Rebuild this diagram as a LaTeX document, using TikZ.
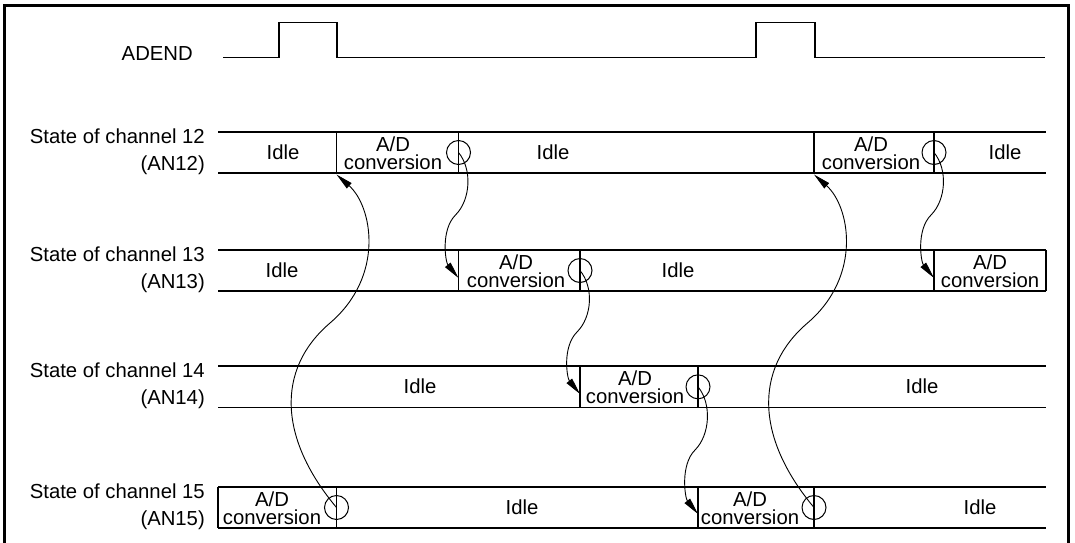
\documentclass[tikz,border=0pt]{standalone}
\usepackage{fontspec}
\setmainfont{Liberation Sans}
\usetikzlibrary{arrows.meta}
\begin{document}
\begin{tikzpicture}[x=1pt,y=-1pt,
  txt/.style={font=\fontsize{20.3}{24}\selectfont, inner sep=0pt},
  lbl/.style={txt, align=right, font=\fontsize{20.3}{27.4}\selectfont, anchor=east},
  adtxt/.style={txt, align=center, font=\fontsize{20.3}{18.2}\selectfont, anchor=center},
  idle/.style={txt, anchor=base},
  rowline/.style={line width=1.2pt},
  sig/.style={line width=1.2pt},
  ring/.style={circle, draw, line width=1pt, minimum size=24pt, inner sep=0pt},
  link/.style={line width=0.9pt, -{Triangle[length=17pt,width=7pt]}},
  frm/.style={line width=2.6pt}]
\useasboundingbox (0,0) rectangle (1075,542);
% frame
\draw[frm] (4.5,550) -- (4.5,5.3) -- (1068.7,5.3) -- (1068.7,550);

% ADEND
\node[txt, anchor=base east] (adend) at (193,60) {ADEND};
\draw[sig] (223,57.3) -- (279,57.3) -- (279,22.7) -- (337,22.7) -- (337,57.3)
  -- (756,57.3) -- (756,22.7) -- (815,22.7) -- (815,57.3) -- (1045,57.3);

% channel 12
\draw[rowline] (218,132) -- (1046,132) (218,173) -- (1046,173);
\draw[rowline] (336.5,132) -- (336.5,173) (458.5,132) -- (458.5,173)
  (814,132) -- (814,173) (934,132) -- (934,173);
\node[lbl] (l12) at (205,152) {State of channel 12\\(AN12)};
\node[idle] (i12a) at (283,159.5) {Idle};
\node[adtxt] (a12a) at (393,153.5) {A/D\\conversion};
\node[idle] (i12b) at (553,159.5) {Idle};
\node[adtxt] (a12b) at (871,153.5) {A/D\\conversion};
\node[idle] (i12c) at (1005,159.5) {Idle};

% channel 13
\draw[rowline] (218,250) -- (1046,250) (218,291) -- (1046,291);
\draw[rowline] (458.5,250) -- (458.5,291) (580,250) -- (580,291)
  (934,250) -- (934,291) (1046,250) -- (1046,291);
\node[lbl] (l13) at (205,270) {State of channel 13\\(AN13)};
\node[idle] (i13a) at (282,277.5) {Idle};
\node[adtxt] (a13a) at (516,271.5) {A/D\\conversion};
\node[idle] (i13b) at (678,277.5) {Idle};
\node[adtxt] (a13b) at (990,271.5) {A/D\\conversion};

% channel 14
\draw[rowline] (218,366) -- (1046,366) (218,407.5) -- (1046,407.5);
\draw[rowline] (580,366) -- (580,407.5) (698,366) -- (698,407.5);
\node[lbl] (l14) at (205,386) {State of channel 14\\(AN14)};
\node[idle] (i14a) at (420,393.5) {Idle};
\node[adtxt] (a14a) at (635,387.5) {A/D\\conversion};
\node[idle] (i14b) at (922,393.5) {Idle};

% channel 15
\draw[rowline] (218,487) -- (1046,487) (218,528) -- (1046,528);
\draw[rowline] (218,487) -- (218,528) (336.5,487) -- (336.5,528)
  (698,487) -- (698,528) (814,487) -- (814,528);
\node[lbl] (l15) at (205,507) {State of channel 15\\(AN15)};
\node[adtxt] (a15a) at (272,508.5) {A/D\\conversion};
\node[idle] (i15a) at (522,514.5) {Idle};
\node[adtxt] (a15b) at (750,508.5) {A/D\\conversion};
\node[idle] (i15b) at (980,514.5) {Idle};

% end-of-conversion rings
\node[ring] (c12a) at (458.5,152.5) {};
\node[ring] (c12b) at (934,152.5) {};
\node[ring] (c13a) at (580,270.5) {};
\node[ring] (c14a) at (698,386.8) {};
\node[ring] (c15a) at (336.5,507.5) {};
\node[ring] (c15b) at (814,507.5) {};

% named waypoints and targets
\coordinate (m1) at (455.5,215);   \coordinate (t1) at (458.5,278);
\coordinate (m2) at (931,215);     \coordinate (t2) at (934,278);
\coordinate (m3) at (577,332);     \coordinate (t3) at (580,394);
\coordinate (m4) at (695,450);     \coordinate (t4) at (698,514);
\coordinate (m5) at (330,323);     \coordinate (t5) at (336.5,174.5);
\coordinate (m6) at (807.5,323);   \coordinate (t6) at (814,174.5);

% connectors
\draw[link] (c12a.center) .. controls +(14,17) and +(15,-15) .. (m1)
  .. controls +(-15,15) and +(-13,-16) .. (t1);
\draw[link] (c12b.center) .. controls +(14,17) and +(15,-15) .. (m2)
  .. controls +(-15,15) and +(-13,-16) .. (t2);
\draw[link] (c13a.center) .. controls +(14,17) and +(15,-15) .. (m3)
  .. controls +(-15,15) and +(-13,-16) .. (t3);
\draw[link] (c14a.center) .. controls +(14,17) and +(15,-15) .. (m4)
  .. controls +(-15,15) and +(-13,-16) .. (t4);
\draw[link] (c15a.center) .. controls +(-57,-68) and +(-55,47) .. (m5)
  .. controls +(55,-47) and +(36,32) .. (t5);
\draw[link] (c15b.center) .. controls +(-57,-68) and +(-55,47) .. (m6)
  .. controls +(55,-47) and +(36,32) .. (t6);
\end{tikzpicture}
\end{document}
